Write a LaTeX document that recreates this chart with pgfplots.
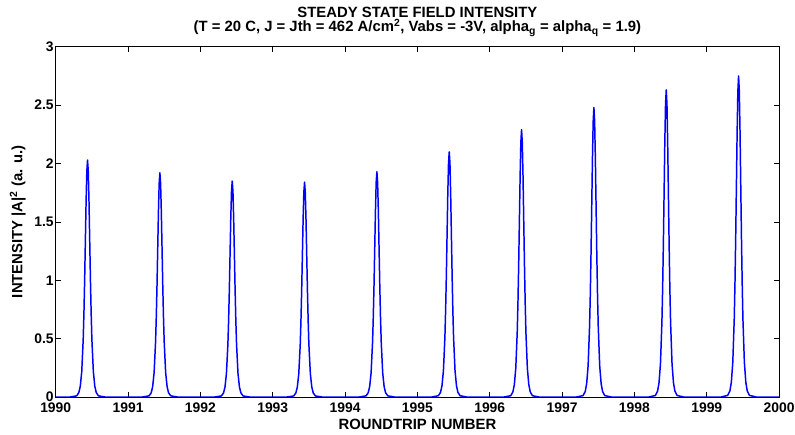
\documentclass[border=0pt]{standalone}
\usepackage{pgfplots}
\pgfplotsset{compat=1.18}
\usepackage{fontspec}
\setmainfont{Liberation Sans}
\begin{document}
\begin{tikzpicture}[x=1bp,y=1bp]
\path[use as bounding box] (-56,-38) rectangle (743,399);
\begin{axis}[
  at={(0,0)}, anchor=south west,
  scale only axis,
  width=727bp, height=352bp,
  xmin=1990, xmax=2000, ymin=0, ymax=3,
  xtick={1990,1991,...,2000},
  ytick={0,0.5,1,1.5,2,2.5,3},
  yticklabels={0,0.5,1,1.5,2,2.5,3},
  xticklabel style={/pgf/number format/1000 sep={}, yshift=-2.5bp},
  yticklabel style={xshift=1.5bp},
  /pgf/number format/assume math mode=true,
  /pgf/number format/1000 sep={},
  tick label style={font=\fontsize{14}{15}\selectfont\bfseries},
  tick align=inside,
  major tick length=5bp,
  tick style={black, line width=0.7pt},
  axis line style={line width=0.7pt},
  xlabel={ROUNDTRIP NUMBER},
  ylabel={INTENSITY |A|\textsuperscript{2} (a. u.)},
  label style={font=\fontsize{15}{15}\selectfont\bfseries},
  xlabel style={yshift=1bp},
  ylabel style={yshift=2bp},
  title={STEADY STATE FIELD INTENSITY\\(T = 20 C, J = Jth = 462 A/cm\textsuperscript{2}, Vabs = -3V, alpha\textsubscript{g} = alpha\textsubscript{q} = 1.9)},
  title style={font=\fontsize{15}{14.5}\selectfont\bfseries, align=center, yshift=1bp},
]
\addplot[blue, line width=1.5pt, line join=round] coordinates {
(1990,0) (1990.20,0)
(1990.29,0.010) (1990.32,0.039) (1990.34,0.093) (1990.36,0.219) (1990.38,0.493) (1990.39,0.717) (1990.40,1.003) (1990.41,1.340) (1990.42,1.677) (1990.43,1.933) (1990.44,2.03)
(1990.45,1.933) (1990.46,1.677) (1990.47,1.340) (1990.48,1.003) (1990.49,0.717) (1990.50,0.493) (1990.52,0.219) (1990.54,0.093) (1990.56,0.039) (1990.59,0.010) (1990.68,0)
(1991.20,0)
(1991.29,0.010) (1991.32,0.036) (1991.34,0.088) (1991.36,0.207) (1991.38,0.467) (1991.39,0.678) (1991.40,0.948) (1991.41,1.267) (1991.42,1.586) (1991.43,1.828) (1991.44,1.92)
(1991.45,1.828) (1991.46,1.586) (1991.47,1.267) (1991.48,0.948) (1991.49,0.678) (1991.50,0.467) (1991.52,0.207) (1991.54,0.088) (1991.56,0.036) (1991.59,0.010) (1991.68,0)
(1992.20,0)
(1992.29,0.009) (1992.32,0.035) (1992.34,0.085) (1992.36,0.200) (1992.38,0.450) (1992.39,0.653) (1992.40,0.914) (1992.41,1.221) (1992.42,1.528) (1992.43,1.761) (1992.44,1.85)
(1992.45,1.761) (1992.46,1.528) (1992.47,1.221) (1992.48,0.914) (1992.49,0.653) (1992.50,0.450) (1992.52,0.200) (1992.54,0.085) (1992.56,0.035) (1992.59,0.009) (1992.68,0)
(1993.20,0)
(1993.29,0.009) (1993.32,0.035) (1993.34,0.085) (1993.36,0.199) (1993.38,0.447) (1993.39,0.650) (1993.40,0.909) (1993.41,1.214) (1993.42,1.520) (1993.43,1.752) (1993.44,1.84)
(1993.45,1.752) (1993.46,1.520) (1993.47,1.214) (1993.48,0.909) (1993.49,0.650) (1993.50,0.447) (1993.52,0.199) (1993.54,0.085) (1993.56,0.035) (1993.59,0.009) (1993.68,0)
(1994.20,0)
(1994.29,0.010) (1994.32,0.037) (1994.34,0.089) (1994.36,0.208) (1994.38,0.469) (1994.39,0.681) (1994.40,0.953) (1994.41,1.274) (1994.42,1.594) (1994.43,1.837) (1994.44,1.93)
(1994.45,1.837) (1994.46,1.594) (1994.47,1.274) (1994.48,0.953) (1994.49,0.681) (1994.50,0.469) (1994.52,0.208) (1994.54,0.089) (1994.56,0.037) (1994.59,0.010) (1994.68,0)
(1995.20,0)
(1995.29,0.011) (1995.32,0.040) (1995.34,0.097) (1995.36,0.227) (1995.38,0.510) (1995.39,0.741) (1995.40,1.037) (1995.41,1.386) (1995.42,1.735) (1995.43,2.000) (1995.44,2.10)
(1995.45,2.000) (1995.46,1.735) (1995.47,1.386) (1995.48,1.037) (1995.49,0.741) (1995.50,0.510) (1995.52,0.227) (1995.54,0.097) (1995.56,0.040) (1995.59,0.011) (1995.68,0)
(1996.20,0)
(1996.29,0.011) (1996.32,0.044) (1996.34,0.105) (1996.36,0.247) (1996.38,0.556) (1996.39,0.808) (1996.40,1.131) (1996.41,1.511) (1996.42,1.892) (1996.43,2.180) (1996.44,2.29)
(1996.45,2.180) (1996.46,1.892) (1996.47,1.511) (1996.48,1.131) (1996.49,0.808) (1996.50,0.556) (1996.52,0.247) (1996.54,0.105) (1996.56,0.044) (1996.59,0.011) (1996.68,0)
(1997.20,0)
(1997.29,0.012) (1997.32,0.047) (1997.34,0.114) (1997.36,0.268) (1997.38,0.603) (1997.39,0.875) (1997.40,1.225) (1997.41,1.637) (1997.42,2.048) (1997.43,2.361) (1997.44,2.48)
(1997.45,2.361) (1997.46,2.048) (1997.47,1.637) (1997.48,1.225) (1997.49,0.875) (1997.50,0.603) (1997.52,0.268) (1997.54,0.114) (1997.56,0.047) (1997.59,0.012) (1997.68,0)
(1998.20,0)
(1998.29,0.013) (1998.32,0.050) (1998.34,0.121) (1998.36,0.284) (1998.38,0.639) (1998.39,0.928) (1998.40,1.299) (1998.41,1.736) (1998.42,2.172) (1998.43,2.504) (1998.44,2.63)
(1998.45,2.504) (1998.46,2.172) (1998.47,1.736) (1998.48,1.299) (1998.49,0.928) (1998.50,0.639) (1998.52,0.284) (1998.54,0.121) (1998.56,0.050) (1998.59,0.013) (1998.68,0)
(1999.20,0)
(1999.29,0.014) (1999.32,0.052) (1999.34,0.127) (1999.36,0.297) (1999.38,0.668) (1999.39,0.971) (1999.40,1.359) (1999.41,1.815) (1999.42,2.272) (1999.43,2.618) (1999.44,2.75)
(1999.45,2.618) (1999.46,2.272) (1999.47,1.815) (1999.48,1.359) (1999.49,0.971) (1999.50,0.668) (1999.52,0.297) (1999.54,0.127) (1999.56,0.052) (1999.59,0.014) (1999.68,0)
(2000,0)
};
\end{axis}
\end{tikzpicture}
\end{document}
